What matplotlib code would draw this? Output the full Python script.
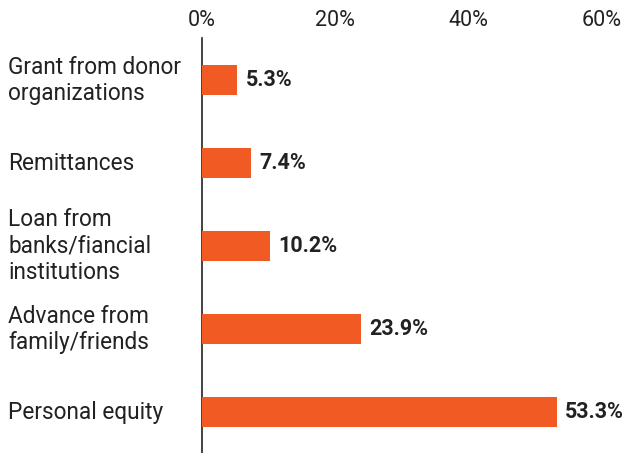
import matplotlib.pyplot as plt
import matplotlib.transforms as mtransforms
import numpy as np

# data
categories = ['Grant from donor\norganizations', 'Remittances',
              'Loan from\nbanks/fiancial\ninstitutions',
              'Advance from\nfamily/friends', 'Personal equity']
values = [5.3, 7.4, 10.2, 23.9, 53.3]
ticks = [0, 20, 40, 60]

plt.rcParams['font.family'] = ['Roboto', 'DejaVu Sans']

fig = plt.figure(figsize=(6.25, 4.53), dpi=100)
ax = fig.add_axes([0.323, 0.0, 0.639, 0.916])

bar_color = '#F15A22'
y = np.arange(len(categories))
ax.barh(y, values, height=0.36, color=bar_color, zorder=3)

ax.set_xlim(0, 60)
ax.set_ylim(4.49, -0.51)

ax.xaxis.tick_top()
ax.set_xticks(ticks)
ax.set_xticklabels([f'{t}%' for t in ticks], fontsize=15.5, color='#222222')
ax.tick_params(axis='x', length=0, pad=5)
ax.set_yticks([])

for s in ['top', 'right', 'bottom']:
    ax.spines[s].set_visible(False)
ax.spines['left'].set_color('#222222')
ax.spines['left'].set_linewidth(1.2)

# value labels
for yi, v in zip(y, values):
    ax.text(v + 1.3, yi, f'{v}%', va='center', ha='left',
            fontsize=15.5, fontweight='bold', color='#222222')

# category labels, left aligned at figure edge
trans = mtransforms.blended_transform_factory(fig.transFigure, ax.transData)
for yi, c in zip(y, categories):
    ax.text(8 / 625, yi, c, transform=trans, va='center', ha='left',
            fontsize=16.3, color='#222222', linespacing=1.2)

plt.savefig('out.png', dpi=100)
